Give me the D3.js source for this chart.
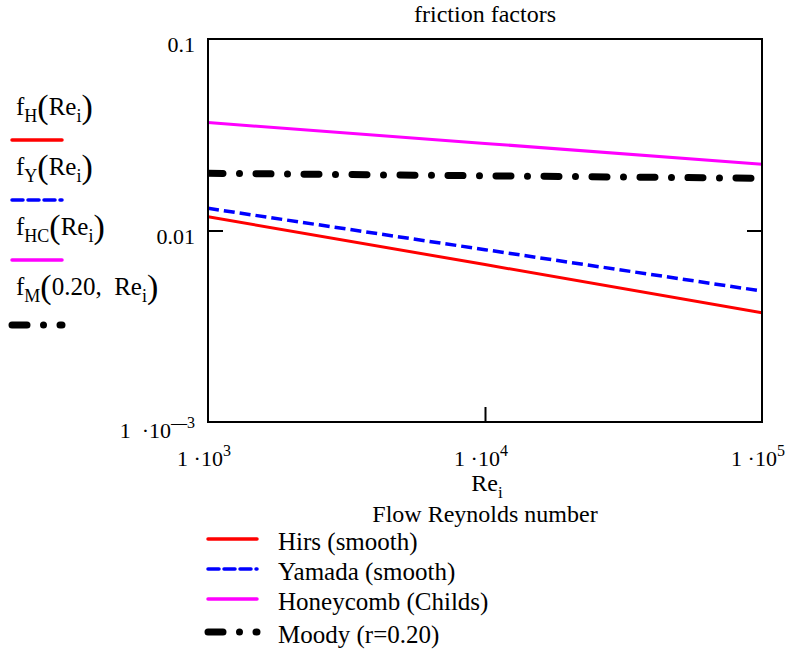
<!DOCTYPE html>
<html lang="en">
<head>
<meta charset="UTF-8">
<title>friction factors</title>
<script src="https://cdnjs.cloudflare.com/ajax/libs/d3/7.8.5/d3.min.js"></script>
<style>
  body { margin: 0; background: #fff; }
  text { font-family: "Liberation Serif", "Times New Roman", serif; fill: #000; }
</style>
</head>
<body>
<div id="draw-here"></div>
<script>
/* global d3 */

var reValues = [1e3, 1e4, 1e5];
// friction factor of each curve at those Reynolds numbers
var hirs      = [0.0118, 0.00664, 0.00372];
var yamada    = [0.01306, 0.00794, 0.00483];
var honeycomb = [0.0366, 0.0285, 0.0222];
var moody     = [0.0199, 0.0193, 0.01874];

var seriesNames = ["Hirs (smooth)", "Yamada (smooth)", "Honeycomb (Childs)", "Moody (r=0.20)"];

// left legend: function names, [text, kind]
var funcLabels = [
  [["f", ""], ["H", "sub"], ["(", "paren"], ["Re", ""], ["i", "sub"], [")", "paren"]],
  [["f", ""], ["Y", "sub"], ["(", "paren"], ["Re", ""], ["i", "sub"], [")", "paren"]],
  [["f", ""], ["HC", "sub"], ["(", "paren"], ["Re", ""], ["i", "sub"], [")", "paren"]],
  [["f", ""], ["M", "sub"], ["(", "paren"], ["0.20,\u2002Re", ""], ["i", "sub"], [")", "paren"]]
];

var xTicks = [1e3, 1e4, 1e5];
var xTickLabels = [[["1 \u00b710", ""], ["3", "sup"]], [["1 \u00b710", ""], ["4", "sup"]], [["1 \u00b710", ""], ["5", "sup"]]];
var yTicks = [0.001, 0.01, 0.1];
var yTickLabels = [[["1\u2002\u00b710", ""], ["\u2014", "sup"], ["3", "sup"]], [["0.01", ""]], [["0.1", ""]]];

var title = "friction factors";
var xLabel = [["Re", ""], ["i", "sub"]];
var xLabel2 = "Flow Reynolds number";

// styles
var colors = ["#ff0000", "#0000ff", "#ff00ff", "#000000"];
var widths = [3, 3.5, 3, 7];
var dashes = [null, "11 5", null, "15 16.5 0 16.5"];
var caps = ["butt", "butt", "butt", "round"];

var w = 788, h = 653;
var mLeft = 208, mRight = 762, mTop = 39, mBottom = 422;

var svg = d3.select("#draw-here").append("svg")
    .attr("width", w).attr("height", h);

svg.append("rect").attr("width", w).attr("height", h).attr("fill", "#fff");

svg.append("clipPath").attr("id", "plot-clip")
  .append("rect")
  .attr("x", mLeft).attr("y", mTop)
  .attr("width", mRight - mLeft).attr("height", mBottom - mTop);

var x = d3.scaleLog().domain([1e3, 1e5]).range([mLeft, mRight]);
var y = d3.scaleLog().domain([1e-3, 0.1]).range([mBottom, mTop]);

// writes a text made of plain / sub / sup / paren parts
function richText(g, px, py, parts, anchor, size) {
  var t = g.append("text").attr("x", px).attr("y", py)
      .attr("text-anchor", anchor).attr("font-size", size);
  var shift = 0;
  parts.forEach(function(p) {
    var target = p[1] === "sub" ? 7 : (p[1] === "sup" ? -10 : (p[1] === "paren" ? 3 : 0));
    var fs = size;
    if (p[1] === "sub" || p[1] === "sup") fs = Math.round(size * 0.72);
    if (p[1] === "paren") fs = Math.round(size * 1.35);
    t.append("tspan").attr("dy", target - shift).attr("font-size", fs).text(p[0]);
    shift = target;
  });
  return t;
}

// curves
var allSeries = [hirs, yamada, honeycomb, moody];
var line = d3.line()
    .x(function(d, i) { return x(reValues[i]); })
    .y(function(d) { return y(d); });

var curves = svg.append("g").attr("clip-path", "url(#plot-clip)");
allSeries.forEach(function(s, k) {
  curves.append("path")
    .attr("d", line(s))
    .attr("fill", "none")
    .attr("stroke", colors[k])
    .attr("stroke-width", widths[k])
    .attr("stroke-dasharray", dashes[k])
    .attr("stroke-linecap", caps[k]);
});

// axes: inner ticks only at the middle values
var tickLen = 15;
svg.append("g").attr("transform", "translate(" + mLeft + ",0)")
  .call(d3.axisRight(y).tickValues([0.01]).tickSize(tickLen).tickFormat(""))
  .call(function(g) { g.select(".domain").remove(); });
svg.append("g").attr("transform", "translate(" + mRight + ",0)")
  .call(d3.axisLeft(y).tickValues([0.01]).tickSize(tickLen).tickFormat(""))
  .call(function(g) { g.select(".domain").remove(); });
svg.append("g").attr("transform", "translate(0," + mBottom + ")")
  .call(d3.axisTop(x).tickValues([1e4]).tickSize(tickLen).tickFormat(""))
  .call(function(g) { g.select(".domain").remove(); });
svg.selectAll(".tick line").attr("stroke", "#000").attr("stroke-width", 2);

svg.append("rect")
  .attr("x", mLeft).attr("y", mTop)
  .attr("width", mRight - mLeft).attr("height", mBottom - mTop)
  .attr("fill", "none").attr("stroke", "#000").attr("stroke-width", 2);

// tick labels
yTicks.forEach(function(v, i) {
  var off = yTickLabels[i].length > 1 ? 16 : 13;
  richText(svg, 195, y(v) + off, yTickLabels[i], "end", 22);
});
xTicks.forEach(function(v, i) {
  richText(svg, x(v) - 4, 466, xTickLabels[i], "middle", 22);
});

// titles
svg.append("text").attr("x", 485).attr("y", 22).attr("text-anchor", "middle")
  .attr("font-size", 24).text(title);
richText(svg, 487, 491, xLabel, "middle", 24);
svg.append("text").attr("x", 485).attr("y", 522).attr("text-anchor", "middle")
  .attr("font-size", 24).text(xLabel2);

// left legend (function names)
var leftRows = [115, 175, 235, 295];
var leftLines = [140, 200, 260, 325];
funcLabels.forEach(function(parts, k) {
  richText(svg, 16, leftRows[k], parts, "start", 25);
  svg.append("line")
    .attr("x1", 12).attr("x2", 62)
    .attr("y1", leftLines[k]).attr("y2", leftLines[k])
    .attr("stroke", colors[k])
    .attr("stroke-width", k === 3 ? 7 : 3.5)
    .attr("stroke-dasharray", dashes[k])
    .attr("stroke-linecap", "round");
});

// bottom legend
var legRows = [539, 569, 599, 632];
seriesNames.forEach(function(name, k) {
  svg.append("line")
    .attr("x1", 208).attr("x2", 257)
    .attr("y1", legRows[k]).attr("y2", legRows[k])
    .attr("stroke", colors[k])
    .attr("stroke-width", k === 3 ? 7 : 3.5)
    .attr("stroke-dasharray", dashes[k])
    .attr("stroke-linecap", "round");
  svg.append("text").attr("x", 278).attr("y", legRows[k] + 11)
    .attr("font-size", 25).text(name);
});
</script>
</body>
</html>
